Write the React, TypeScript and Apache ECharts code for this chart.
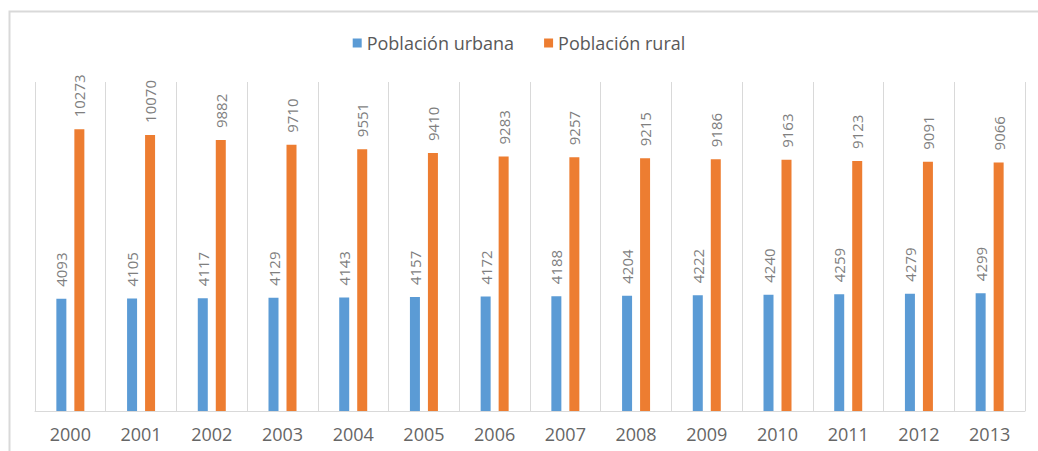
import React, { useEffect, useRef } from "react";
import * as echarts from "echarts";

const years = ["2000", "2001", "2002", "2003", "2004", "2005", "2006", "2007", "2008", "2009", "2010", "2011", "2012", "2013"];
const urbana = [4093, 4105, 4117, 4129, 4143, 4157, 4172, 4188, 4204, 4222, 4240, 4259, 4279, 4299];
const rural = [10273, 10070, 9882, 9710, 9551, 9410, 9283, 9257, 9215, 9186, 9163, 9123, 9091, 9066];

const FONT = "'Open Sans', 'Noto Sans', sans-serif";

export default function App() {
  const ref = useRef<HTMLDivElement>(null);
  useEffect(() => {
    if (!ref.current) return;
    const chart = echarts.init(ref.current, undefined, { renderer: "svg" });
    const label = {
      show: true,
      position: "top",
      rotate: 90,
      align: "left",
      verticalAlign: "middle",
      distance: 12,
      color: "#7f7f7f",
      fontSize: 15,
      fontFamily: FONT,
    };
    chart.setOption({
      animation: false,
      backgroundColor: "#ffffff",
      graphic: [
        {
          type: "polyline",
          shape: { points: [[9.5, 451], [9.5, 11.5], [1040, 11.5]] },
          style: { stroke: "#d9d9d9", lineWidth: 2, fill: "none" },
          silent: true,
        },
      ],
      legend: {
        top: 29,
        left: "center",
        itemWidth: 9,
        itemHeight: 9,
        itemGap: 30,
        icon: "rect",
        textStyle: { color: "#595959", fontSize: 18, fontFamily: FONT },
        data: ["Población urbana", "Población rural"],
      },
      grid: { left: 35, right: 13, top: 82, bottom: 40 },
      xAxis: {
        type: "category",
        data: years,
        axisLine: { lineStyle: { color: "#d9d9d9", width: 1 } },
        axisTick: { show: false },
        splitLine: { show: true, lineStyle: { color: "#d9d9d9", width: 1 } },
        axisLabel: { color: "#666666", fontSize: 18, fontFamily: FONT, margin: 14 },
      },
      yAxis: {
        type: "value",
        min: 0,
        max: 12000,
        show: false,
        splitLine: { show: false },
      },
      series: [
        {
          name: "Población urbana",
          type: "bar",
          data: urbana,
          barWidth: 10,
          barGap: "80%",
          itemStyle: { color: "#5b9bd5" },
          label,
        },
        {
          name: "Población rural",
          type: "bar",
          data: rural,
          barWidth: 10,
          itemStyle: { color: "#ed7d31" },
          label,
        },
      ],
    });
    return () => chart.dispose();
  }, []);
  return (
    <div
      ref={ref}
      style={{ position: "fixed", left: 0, top: 0, width: 1038, height: 451 }}
    />
  );
}
